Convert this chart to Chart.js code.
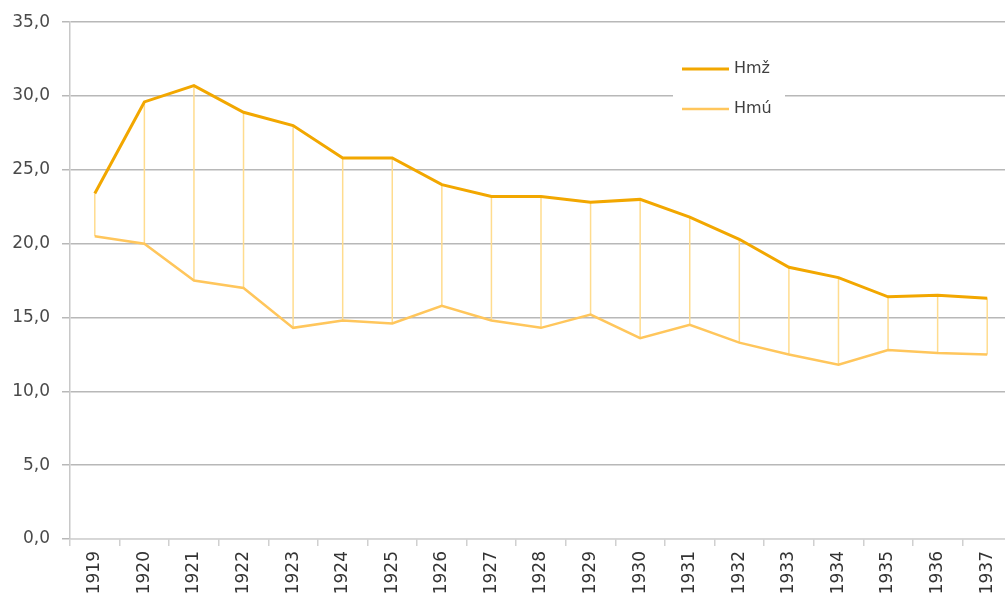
<!DOCTYPE html>
<html>
<head>
<meta charset="utf-8">
<script src="https://cdn.jsdelivr.net/npm/chart.js@4/dist/chart.umd.min.js"></script>
<style>
    html, body { margin: 0; padding: 0; background: #fff; overflow: hidden; }
    #wrap { position: relative; width: 1015px; height: 598px; }
</style>
</head>
<body>
<div id="wrap"><canvas id="hmChart"></canvas></div>
<script>
// Hmž / Hmú by year

const years = ["1919", "1920", "1921", "1922", "1923", "1924", "1925", "1926", "1927", "1928",
    "1929", "1930", "1931", "1932", "1933", "1934", "1935", "1936", "1937"];

const hmz = [23.4, 29.6, 30.7, 28.9, 28.0, 25.8, 25.8, 24.0, 23.2, 23.2,
    22.8, 23.0, 21.8, 20.3, 18.4, 17.7, 16.4, 16.5, 16.3];

const hmu = [20.5, 20.0, 17.5, 17.0, 14.3, 14.8, 14.6, 15.8, 14.8, 14.3,
    15.2, 13.6, 14.5, 13.3, 12.5, 11.8, 12.8, 12.6, 12.5];

const yTicks = [0, 5, 10, 15, 20, 25, 30, 35];

const fontFamily = "'DejaVu Sans', sans-serif";

// vertical high-low lines between the two series
const dropLines = {
    id: "dropLines",
    beforeDatasetsDraw(chart) {
        const a = chart.getDatasetMeta(0).data;
        const b = chart.getDatasetMeta(1).data;
        const ctx = chart.ctx;
        ctx.save();
        ctx.strokeStyle = "#FFDC8E";
        ctx.lineWidth = 1.5;
        for (let i = 0; i < a.length; i++) {
            ctx.beginPath();
            ctx.moveTo(a[i].x, a[i].y);
            ctx.lineTo(b[i].x, b[i].y);
            ctx.stroke();
        }
        ctx.restore();
    }
};

// legend box sitting on the plot
const boxLegend = {
    id: "boxLegend",
    afterDraw(chart) {
        const ctx = chart.ctx;
        ctx.save();
        ctx.fillStyle = "#fff";
        ctx.fillRect(673, 52, 112, 76);
        chart.data.datasets.forEach((ds, i) => {
            const y = 69 + i * 40;
            ctx.strokeStyle = ds.borderColor;
            ctx.lineWidth = ds.borderWidth;
            ctx.beginPath();
            ctx.moveTo(682, y);
            ctx.lineTo(729, y);
            ctx.stroke();
            ctx.fillStyle = "#404040";
            ctx.font = "16px " + fontFamily;
            ctx.textBaseline = "middle";
            ctx.fillText(ds.label, 734, y);
        });
        ctx.restore();
    }
};

new Chart(document.getElementById("hmChart"), {
    type: "line",

    data: {
        labels: years,
        datasets: [{
            label: "Hmž",
            data: hmz,
            borderColor: "#F2A700",
            borderWidth: 3,
            pointRadius: 0,
            tension: 0
        }, {
            label: "Hmú",
            data: hmu,
            borderColor: "#FFC65C",
            borderWidth: 2.5,
            pointRadius: 0,
            tension: 0
        }]
    },

    options: {
        responsive: true,
        maintainAspectRatio: false,
        animation: false,
        layout: {
            padding: { top: 19, right: 3, left: 0, bottom: 0 }
        },
        plugins: {
            legend: { display: false },
            tooltip: { enabled: false }
        },
        scales: {
            x: {
                offset: true,
                grid: {
                    offset: true,
                    drawOnChartArea: false,
                    tickLength: 7,
                    color: "#d0d0d0",
                    lineWidth: 1.5
                },
                border: { color: "#d6d6d6", width: 1.5 },
                ticks: {
                    minRotation: 90,
                    maxRotation: 90,
                    autoSkip: false,
                    padding: 5,
                    color: "#333333",
                    font: { family: fontFamily, size: 17 }
                },
                afterFit(scale) { scale.height = 59; }
            },
            y: {
                min: 0,
                max: 35,
                afterBuildTicks(scale) {
                    scale.ticks = yTicks.map(v => ({ value: v }));
                },
                grid: {
                    color: "#b8b8b8",
                    lineWidth: 1.5,
                    tickLength: 8
                },
                border: { color: "#c8c8c8", width: 1.5 },
                ticks: {
                    padding: 12,
                    color: "#4a4a4a",
                    font: { family: fontFamily, size: 17 },
                    callback: v => v.toFixed(1).replace(".", ",")
                },
                afterFit(scale) { scale.width = 70; }
            }
        }
    },

    plugins: [dropLines, boxLegend]
});
</script>
</body>
</html>
